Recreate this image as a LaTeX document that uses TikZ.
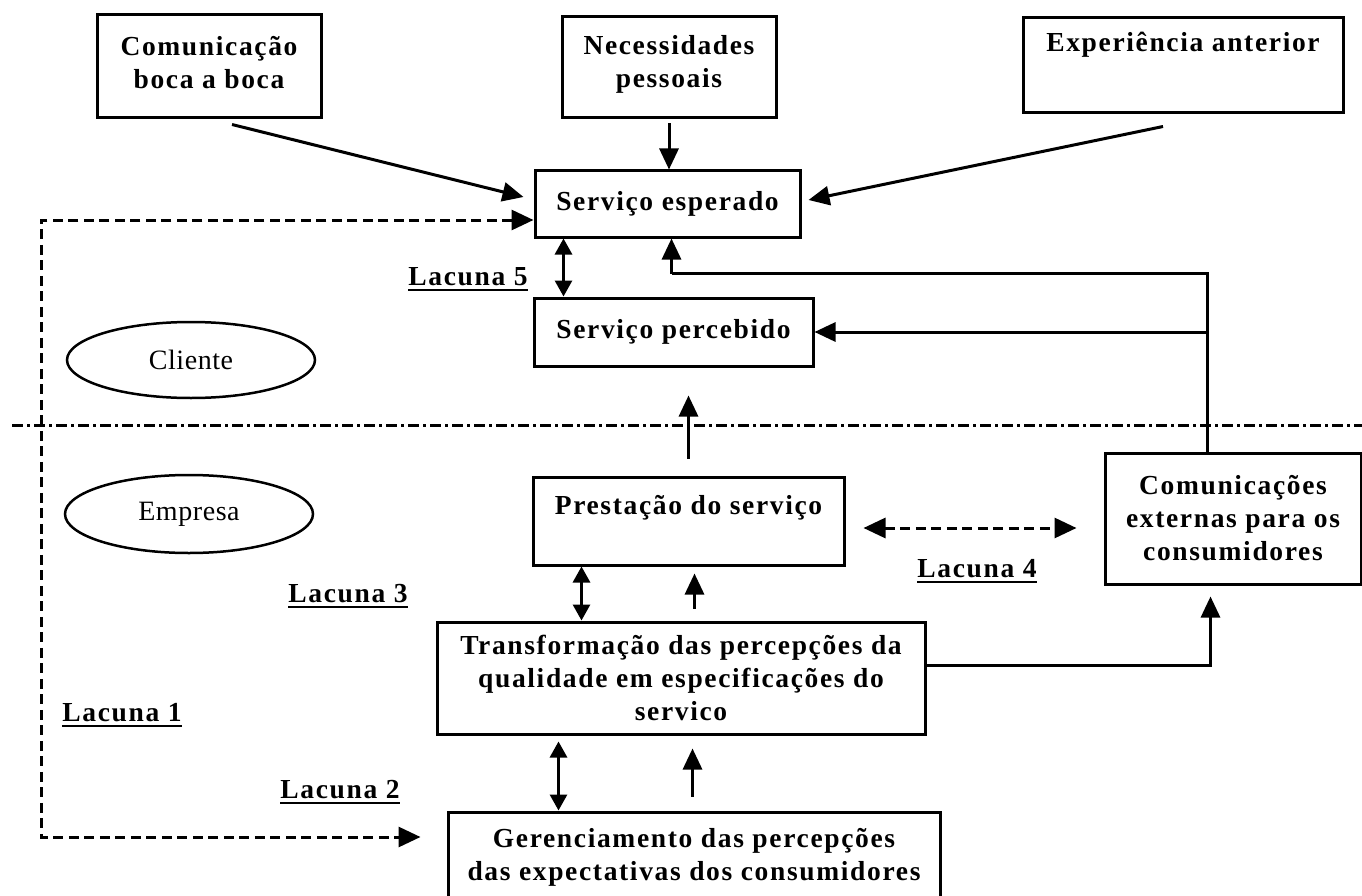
\documentclass[tikz,border=0pt]{standalone}
\usepackage{fontspec}
\setmainfont{Liberation Serif}
\newfontfamily\boxfont[LetterSpace=6]{Liberation Serif}
\newfontfamily\ovalfont[LetterSpace=2]{Liberation Serif}
\usetikzlibrary{arrows.meta,calc,shapes.geometric}

\begin{document}
\begin{tikzpicture}[x=1pt,y=-1pt,
  box/.style={draw, line width=3pt, inner sep=0pt},
  txt/.style={font=\boxfont\bfseries\fontsize{27.5}{33}\selectfont, align=center, inner sep=0pt},
  oval/.style={draw, ellipse, line width=2.5pt, inner sep=0pt,
    font=\ovalfont\fontsize{28}{34}\selectfont},
  gaplbl/.style={font=\boxfont\bfseries\fontsize{27.5}{33}\selectfont, inner sep=0pt, anchor=base},
  uline/.style={line width=2.5pt},
  arr/.style={line width=3pt, -{Triangle[length=21pt,width=19pt]}},
  darr/.style={line width=3pt, {Triangle[length=16pt,width=17pt]}-{Triangle[length=16pt,width=17pt]}},
  dasharr/.style={line width=3pt, dash pattern=on 10pt off 5.5pt,
    {Triangle[length=22pt,width=20pt]}-{Triangle[length=22pt,width=20pt]}},
  sep/.style={line width=3pt, dash pattern=on 11pt off 4pt on 3pt off 4pt}
]
\useasboundingbox (0,0) rectangle (1362,896);
\clip (0,0) rectangle (1362,896);
\fill[white] (0,0) rectangle (1362,896);

% customer side
\node[box, minimum width=224pt, minimum height=103pt] (bb) at (209,66.5) {};
\node[txt] (bbt) at (209,62.5) {Comunicação\\boca a boca};
\node[box, minimum width=214pt, minimum height=101pt] (np) at (669,67.5) {};
\node[txt] (npt) at (669,64.5) {Necessidades\\pessoais};
\node[box, minimum width=320pt, minimum height=95pt] (ea) at (1183,65.5) {};
\node[txt] (eat) at (1183,45) {Experiência anterior};
\node[box, txt, minimum width=265pt, minimum height=66pt] (se) at (667.5,204) {Serviço esperado};
\node[box, txt, minimum width=279pt, minimum height=68pt] (sp) at (673.5,332) {Serviço percebido};

\node[oval, minimum width=248pt, minimum height=76pt] (cli) at (191,360) {Cliente};
\node[oval, minimum width=248pt, minimum height=78pt] (emp) at (189,514) {Empresa};

% boundary between customer and company
\draw[sep] (12,425) -- (1362,425);

% company side
\node[box, minimum width=311pt, minimum height=88pt] (ps) at (688.5,521) {};
\node[txt] (pst) at (688.5,508) {Prestação do serviço};
\node[box, txt, minimum width=256pt, minimum height=131pt] (ce) at (1233,518.5)
  {Comunicações\\externas para os\\consumidores};
\node[box, txt, minimum width=488pt, minimum height=112pt] (tr) at (681,678)
  {Transformação das percepções da\\qualidade em especificações do\\servico};
\node[box, minimum width=492pt, minimum height=100pt] (ge) at (694,862) {};
\node[txt] (get) at (694,857) {Gerenciamento das percepções\\das expectativas dos consumidores};

% gap labels
\node[gaplbl] (l5) at (468,285) {Lacuna 5};
\node[gaplbl] (l3) at (348,602) {Lacuna 3};
\node[gaplbl] (l4) at (977,577) {Lacuna 4};
\node[gaplbl] (l1) at (122,721) {Lacuna 1};
\node[gaplbl] (l2) at (340,798) {Lacuna 2};
\foreach \n in {l5,l3,l4,l1,l2}
  \draw[uline] ($(\n.base west)+(0,5)$) -- ($(\n.base east)+(0,5)$);

% influences on the expected service
\draw[arr] ($(bb.south)+(23,5)$) -- ($(se.west)+(-10,-7)$);
\draw[arr, shorten <=4pt] (np.south) -- (np.south |- se.north);
\draw[arr] ($(ea.south)+(-20,12)$) -- ($(se.east)+(7,-4)$);

% gap 5
\draw[darr] ($(se.south west)+(30,0)$) -- ($(sp.north west)+(31,0)$);

% external communications feedback
\coordinate (fb) at ($(ce.north west)+(104,0)$);
\coordinate (fbt) at ($(se.south west)+(138,35)$);
\draw[line width=3pt] (fb) |- (fbt);
\draw[arr] (fbt) -- (fbt |- se.south);
\draw[arr] (fb |- sp.east) -- (sp.east);

% delivery to perceived service
\draw[arr] ($(ps.north)+(0,-17)$) -- ($(ps.north)+(0,-80)$);

% gap 4
\coordinate (g4) at ($(ps.east)+(18,7)$);
\draw[dasharr, shorten >=27pt] (g4) -- (g4 -| ce.west);

% gap 3
\draw[darr] ($(ps.south west)+(50,0)$) -- ($(tr.north west)+(146,0)$);
\draw[arr] ($(tr.north west)+(259,-12)$) -- ($(ps.south west)+(163,7)$);

% gap 2
\draw[darr] ($(tr.south west)+(123,6)$) -- ($(ge.north west)+(112,0)$);
\draw[arr] ($(ge.north west)+(246,-14)$) -- ($(tr.south west)+(257,13)$);

% specifications to external communications
\draw[arr] ($(tr.east)+(0,-13)$) -| ($(ce.south west)+(107,11)$);

% gap 1
\coordinate (l1x) at (41,0);
\coordinate (l1s) at ($(se.west)+(0,16)$);
\coordinate (l1e) at ($(ge.west)+(-26,-25)$);
\draw[dasharr] (l1s) -- (l1s -| l1x) |- (l1e);
\end{tikzpicture}
\end{document}
